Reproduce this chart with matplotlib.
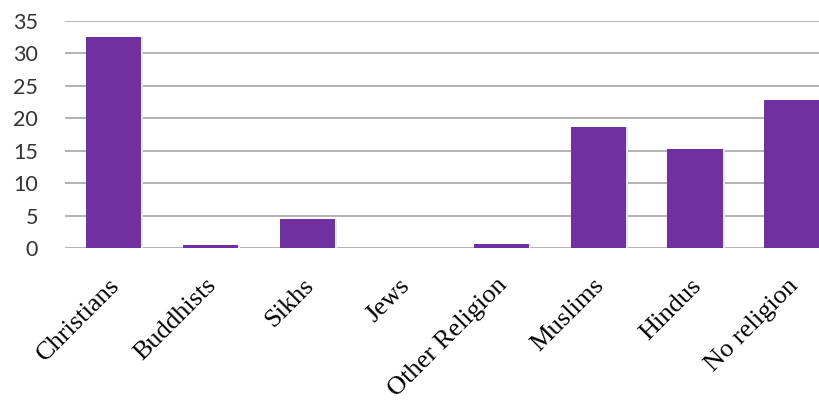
import matplotlib
matplotlib.use('Agg')
import matplotlib.pyplot as plt
import matplotlib.transforms as mtransforms
import numpy as np

religions = ['Christians', 'Buddhists', 'Sikhs', 'Jews', 'Other Religion',
             'Muslims', 'Hindus', 'No religion']
percent = [32.5, 0.4, 4.5, 0.0, 0.6, 18.6, 15.3, 22.8]
y_ticks = [0, 5, 10, 15, 20, 25, 30, 35]

fig = plt.figure(figsize=(8.19, 4.0), dpi=100)
# plot area runs past the right edge, as in the reference crop
ax = fig.add_axes([65 / 819, 152 / 400, 775.5 / 819, 227 / 400])

x = np.arange(len(religions))
ax.bar(x + 0.02, percent, width=0.57, color='#e4e4e4', zorder=2)  # faint shadow
ax.bar(x, percent, width=0.57, color='#7030A0', zorder=3)

ax.set_xlim(-0.5, len(religions) - 0.5)
ax.set_ylim(0, 35)
ax.set_yticks(y_ticks)
ax.yaxis.grid(True, color='#a6a6a6', linewidth=1.2, zorder=0)
ax.set_axisbelow(True)
for s in ax.spines.values():
    s.set_visible(False)

ax.tick_params(axis='both', length=0)
ax.tick_params(axis='y', pad=19.5)
for lbl in ax.get_yticklabels():
    lbl.set_fontfamily('Lato')
    lbl.set_fontsize(15.5)
    lbl.set_color('#333333')

ax.set_xticks(x)
ax.set_xticklabels(religions, rotation=45, ha='right', va='top',
                   rotation_mode='anchor',
                   family='Liberation Serif', fontsize=19, color='black')
ax.tick_params(axis='x', pad=19)
shift = mtransforms.ScaledTranslation(-5 / 100, 0, fig.dpi_scale_trans)
for lbl in ax.get_xticklabels():
    lbl.set_transform(lbl.get_transform() + shift)

fig.savefig('out.png', dpi=100)
